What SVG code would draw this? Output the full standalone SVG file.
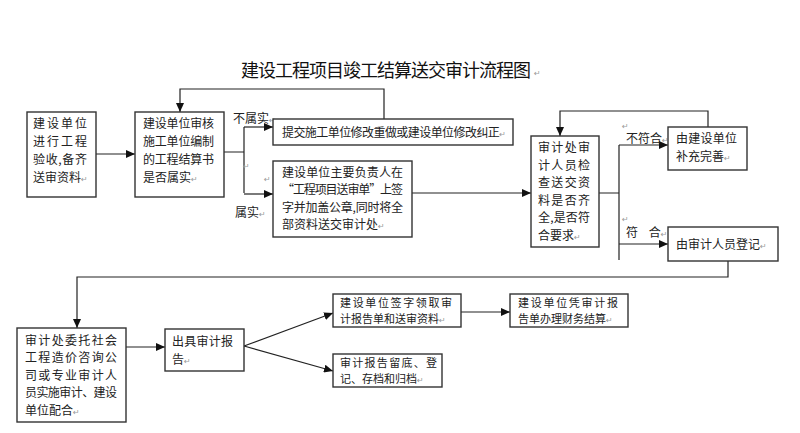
<svg xmlns="http://www.w3.org/2000/svg" width="800" height="433" viewBox="0 0 800 433">
<defs>
<marker id="ah" markerWidth="9" markerHeight="8" refX="9" refY="4" orient="auto" markerUnits="userSpaceOnUse">
<path d="M0,0 L9,4 L0,8 Z" fill="#111"/>
</marker>
<style>
.box{fill:#fff;stroke:#333;stroke-width:1.4}
.t{font-family:"Noto Sans CJK SC","Noto Sans",sans-serif;font-size:12px;fill:#222}
.s{font-size:11px}
.lb{font-family:"Noto Sans CJK SC","Noto Sans",sans-serif;font-size:12px;fill:#222}
.pm{font-family:"DejaVu Sans",sans-serif;font-size:8px;fill:#999}
.c{fill:none;stroke:#222;stroke-width:1.2}
.a{marker-end:url(#ah)}
</style>
</defs>
<rect width="800" height="433" fill="#fff"/>
<text x="241" y="77" font-family="'Noto Sans CJK SC',sans-serif" font-size="18" fill="#111" textLength="290" lengthAdjust="spacing">建设工程项目竣工结算送交审计流程图</text>
<text x="534" y="76" class="pm">↵</text>

<g id="connectors">
<path class="c a" d="M96,154 H135"/>
<path class="c" d="M224,152 H244 M244,127 V193"/>
<path class="c a" d="M244,127 H273"/>
<path class="c a" d="M244,194 H273"/>
<path class="c a" d="M384,119 V89 H180 V112"/>
<path class="c a" d="M412,193 H531"/>
<path class="c" d="M599,193 H619 M619,145 V260"/>
<path class="c a" d="M619,145 H668"/>
<path class="c a" d="M619,244 H668"/>
<path class="c a" d="M708,127 V111 H560 V136"/>
<path class="c a" d="M728,261 V277 H77 V328"/>
<path class="c a" d="M126,347 H165"/>
<path class="c a" d="M244,346 L333,313"/>
<path class="c a" d="M244,346 L333,371"/>
<path class="c a" d="M461,312 H510"/>
</g>

<g id="labels">
<text x="233" y="123" class="lb">不属实<tspan class="pm">↵</tspan></text>
<text x="235" y="217" class="lb">属实<tspan class="pm">↵</tspan></text>
<text x="243" y="169" class="pm">↵</text>
<text x="264" y="182" class="pm">↵</text>
<text x="626" y="143" class="lb">不符合<tspan class="pm">↵</tspan></text>
<text x="622" y="129" class="pm">↵</text>
<text x="626" y="237" class="lb" xml:space="preserve">符    合<tspan class="pm">↵</tspan></text>
<text x="622" y="222" class="pm">↵</text>
</g>

<g id="n1">
<rect class="box" x="27" y="112" width="69" height="85"/>
<text class="t" x="33" y="127.5" textLength="54" lengthAdjust="spacing">建设单位</text>
<text class="t" x="33" y="145.5" textLength="54" lengthAdjust="spacing">进行工程</text>
<text class="t" x="33" y="163.5" textLength="54" lengthAdjust="spacing">验收,备齐</text>
<text class="t" x="33" y="181.5">送审资料<tspan class="pm">↵</tspan></text>
</g>

<g id="n2">
<rect class="box" x="135" y="112" width="89" height="85"/>
<text class="t" x="143" y="127.5" textLength="71" lengthAdjust="spacing">建设单位审核</text>
<text class="t" x="143" y="145.5" textLength="71" lengthAdjust="spacing">施工单位编制</text>
<text class="t" x="143" y="163.5" textLength="71" lengthAdjust="spacing">的工程结算书</text>
<text class="t" x="143" y="181.5">是否属实<tspan class="pm">↵</tspan></text>
</g>

<g id="n3">
<rect class="box" x="273" y="119" width="240" height="26"/>
<text class="t" x="282" y="136.5" textLength="224" lengthAdjust="spacing">提交施工单位修改重做或建设单位修改纠正<tspan class="pm">↵</tspan></text>
</g>

<g id="n4">
<rect class="box" x="273" y="161" width="139" height="76"/>
<text class="t" x="282" y="176.5" textLength="121" lengthAdjust="spacing">建设单位主要负责人在</text>
<text class="t" x="282" y="194" textLength="121" lengthAdjust="spacing">“工程项目送审单”上签</text>
<text class="t" x="282" y="211.5" textLength="121" lengthAdjust="spacing">字并加盖公章,同时将全</text>
<text class="t" x="282" y="229">部资料送交审计处<tspan class="pm">↵</tspan></text>
</g>

<g id="n5">
<rect class="box" x="531" y="136" width="68" height="111"/>
<text class="t" x="538" y="152" textLength="52" lengthAdjust="spacing">审计处审</text>
<text class="t" x="538" y="169.5" textLength="52" lengthAdjust="spacing">计人员检</text>
<text class="t" x="538" y="187" textLength="52" lengthAdjust="spacing">查送交资</text>
<text class="t" x="538" y="204.5" textLength="52" lengthAdjust="spacing">料是否齐</text>
<text class="t" x="538" y="222" textLength="52" lengthAdjust="spacing">全,是否符</text>
<text class="t" x="538" y="239.5">合要求<tspan class="pm">↵</tspan></text>
</g>

<g id="n6">
<rect class="box" x="668" y="127" width="79" height="43"/>
<text class="t" x="676" y="143" textLength="61" lengthAdjust="spacing">由建设单位</text>
<text class="t" x="676" y="160.5">补充完善<tspan class="pm">↵</tspan></text>
</g>

<g id="n7">
<rect class="box" x="668" y="227" width="110" height="34"/>
<text class="t" x="676" y="248.5">由审计人员登记<tspan class="pm">↵</tspan></text>
</g>

<g id="n8">
<rect class="box" x="17" y="328" width="109" height="94"/>
<text class="t" x="25" y="344.5" textLength="92" lengthAdjust="spacing">审计处委托社会</text>
<text class="t" x="25" y="362" textLength="92" lengthAdjust="spacing">工程造价咨询公</text>
<text class="t" x="25" y="379.5" textLength="92" lengthAdjust="spacing">司或专业审计人</text>
<text class="t" x="25" y="397" textLength="92" lengthAdjust="spacing">员实施审计、建设</text>
<text class="t" x="25" y="414.5">单位配合<tspan class="pm">↵</tspan></text>
</g>

<g id="n9">
<rect class="box" x="165" y="329" width="79" height="42"/>
<text class="t" x="172" y="346" textLength="61" lengthAdjust="spacing">出具审计报</text>
<text class="t" x="172" y="363.5">告<tspan class="pm">↵</tspan></text>
</g>

<g id="n10">
<rect class="box" x="333" y="294" width="128" height="33"/>
<text class="t s" x="340" y="306.5" textLength="112" lengthAdjust="spacing">建设单位签字领取审</text>
<text class="t s" x="340" y="322.5">计报告单和送审资料<tspan class="pm">↵</tspan></text>
</g>

<g id="n11">
<rect class="box" x="333" y="354" width="109" height="33"/>
<text class="t s" x="340" y="366.5" textLength="97" lengthAdjust="spacing">审计报告留底、登</text>
<text class="t s" x="340" y="382.5">记、存档和归档<tspan class="pm">↵</tspan></text>
</g>

<g id="n12">
<rect class="box" x="510" y="294" width="118" height="33"/>
<text class="t s" x="518" y="306.5" textLength="100" lengthAdjust="spacing">建设单位凭审计报</text>
<text class="t s" x="518" y="322.5">告单办理财务结算<tspan class="pm">↵</tspan></text>
</g>
</svg>
